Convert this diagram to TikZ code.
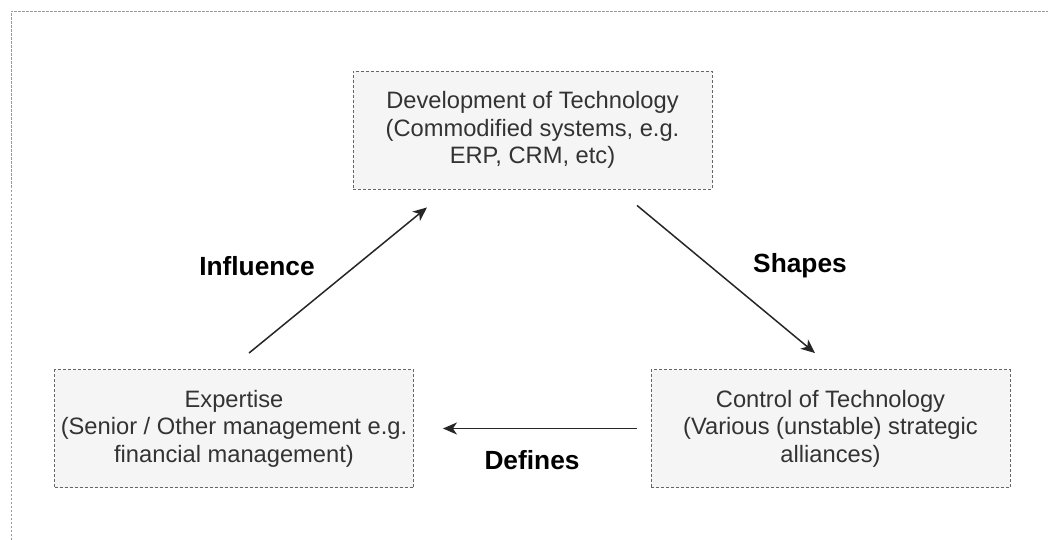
\documentclass[tikz,border=0pt]{standalone}
\usepackage{fontspec}
\setmainfont{Liberation Sans}
\usetikzlibrary{arrows.meta}
\definecolor{boxfill}{HTML}{F5F5F5}
\definecolor{boxline}{HTML}{666666}
\definecolor{boxtext}{HTML}{333333}
\definecolor{frameline}{HTML}{9A9A9A}
\tikzstyle{techbox} = [rectangle, minimum width=359pt, minimum height=118pt, align=center, text centered, draw=boxline, fill=boxfill, text=boxtext, line width=0.9pt, dash pattern=on 3pt off 2pt, font=\fontsize{23.7}{27.5}\selectfont]
\tikzstyle{label} = [font=\fontsize{26.3}{30}\selectfont\bfseries, text=black]
\tikzstyle{arrow} = [line width=1.5pt, draw=black!85, -{Stealth[length=14pt, width=12pt, inset=4pt]}]

\begin{document}
\begin{tikzpicture}[x=1pt, y=-1pt]
        \useasboundingbox (0,0) rectangle (1048,540);
        \draw [frameline, line width=0.9pt, dash pattern=on 2.5pt off 1.5pt] (11,600) -- (11,11) -- (1100,11);
        \node (dev) [techbox] at (532.5,130) {Development of Technology\\(Commodified systems, e.g.\\ERP, CRM, etc)};
        \node (expertise) [techbox] at (234,428.5) {Expertise\\(Senior / Other management e.g.\\financial management)};
        \node (control) [techbox] at (830.5,428.5) {Control of Technology\\(Various (unstable) strategic\\alliances)};
        \node (influence) [label] at (257,266) {Influence};
        \node (shapes) [label] at (800,266) {Shapes};
        \node (defines) [label] at (532,460) {Defines};

        \draw [arrow] ([xshift=15pt, yshift=16pt]expertise.north) -- ([xshift=-105.5pt, yshift=-18pt]dev.south);
        \draw [arrow] ([xshift=104.5pt, yshift=-16pt]dev.south) -- ([xshift=-15.5pt, yshift=16pt]control.north);
        \draw [arrow] ([xshift=-14pt]control.west) -- ([xshift=29pt]expertise.east);
    \end{tikzpicture}
\end{document}
